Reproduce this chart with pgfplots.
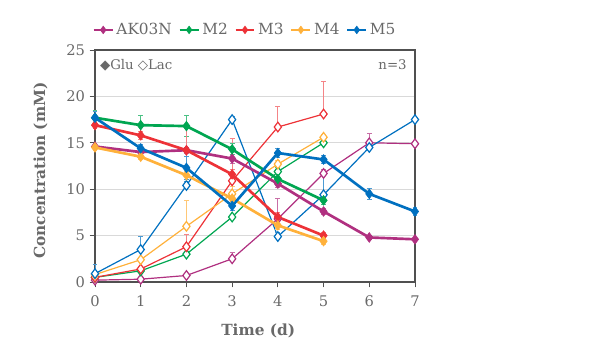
\documentclass[border=0pt]{standalone}
\usepackage{pgfplots}
\pgfplotsset{compat=1.18}
\usepackage{fontspec}
\setmainfont{DejaVu Serif}
\newfontfamily\symfont{DejaVu Sans}
\definecolor{cAK}{RGB}{176,48,128}
\definecolor{cM2}{RGB}{0,166,81}
\definecolor{cM3}{RGB}{237,50,55}
\definecolor{cM4}{RGB}{255,177,59}
\definecolor{cM5}{RGB}{0,112,192}
\definecolor{txt}{RGB}{105,105,105}
\definecolor{axc}{RGB}{80,80,80}
\definecolor{grd}{RGB}{217,217,217}

\pgfplotstableread{
x y e
0 14.6 0.2
1 14.0 0.3
2 14.2 0.3
3 13.3 0.5
4 10.6 0.4
5 7.6 0.3
6 4.8 0.2
7 4.6 0.2
}\akglu
\pgfplotstableread{
x y e
0 0.2 0.1
1 0.3 0.1
2 0.7 0.1
3 2.5 0.7
4 6.8 2.2
5 11.7 0.4
6 15.0 1.0
7 14.9 0.2
}\aklac
\pgfplotstableread{
x y e
0 17.7 0.8
1 16.9 1.0
2 16.8 1.1
3 14.3 0.6
4 11.1 0.5
5 8.8 0.4
}\mtwoglu
\pgfplotstableread{
x y e
0 0.5 0.1
1 1.2 0.1
2 3.0 0.2
3 7.0 0.3
4 11.9 0.4
5 15.0 0.3
}\mtwolac
\pgfplotstableread{
x y e
0 16.9 0.3
1 15.8 0.4
2 14.2 2.7
3 11.6 0.5
4 7.0 0.5
5 5.0 0.3
}\mthreeglu
\pgfplotstableread{
x y e
0 0.5 0.1
1 1.4 0.2
2 3.8 1.3
3 10.9 4.6
4 16.7 2.2
5 18.1 3.5
}\mthreelac
\pgfplotstableread{
x y e
0 14.5 0.2
1 13.5 0.3
2 11.5 0.4
3 9.0 0.5
4 6.1 0.4
5 4.4 0.3
}\mfourglu
\pgfplotstableread{
x y e
0 0.8 0.2
1 2.4 0.3
2 6.0 2.8
3 9.5 0.8
4 12.7 0.4
5 15.6 0.3
}\mfourlac
\pgfplotstableread{
x y e
0 17.7 0.7
1 14.4 0.4
2 12.3 1.2
3 8.2 0.5
4 13.9 0.5
5 13.2 0.4
6 9.5 0.6
7 7.6 0.4
}\mfiveglu
\pgfplotstableread{
x y e
0 0.9 1.0
1 3.5 1.4
2 10.4 0.4
3 17.5 0.3
4 4.9 0.4
5 9.4 2.5
6 14.5 0.4
7 17.5 0.3
}\mfivelac

\begin{document}
\begin{tikzpicture}
\path[use as bounding box] (-71.25pt,-47.25pt) rectangle (390pt,211.5pt);
\begin{axis}[
  at={(0,0)}, anchor=south west,
  scale only axis, width=240pt, height=174pt,
  xmin=0, xmax=7, ymin=0, ymax=25,
  xtick={0,...,7}, ytick={0,5,...,25},
  tick align=outside, xtick pos=bottom, ytick pos=left,
  major tick length=4pt,
  tick style={axc, line width=0.6pt},
  axis line style={axc, line width=0.8pt},
  ymajorgrids, grid style={grd, line width=0.6pt},
  clip=false,
  /pgf/number format/assume math mode=true,
  tick label style={font=\fontsize{11}{13}\selectfont, text=txt},
  xticklabel style={yshift=-3pt},
  ylabel={Concentration (mM)},
  xlabel={Time (d)},
  label style={font=\fontsize{11.5}{13}\selectfont\bfseries, text=txt},
  ylabel style={at={(axis description cs:-0.17,0.48)}, anchor=center},
  xlabel style={at={(axis description cs:0.51,-0.21)}, anchor=center},
  legend columns=5,
  legend style={draw=none, fill=none, at={(0.47,1.045)}, anchor=south,
    font=\fontsize{11.5}{13}\selectfont, text=txt,
    /tikz/every even column/.append style={column sep=3pt},
    inner sep=0pt},
  legend cell align=left,
  legend image code/.code={\draw[line width=1.6pt, mark size=2.8pt, mark repeat=2, mark phase=2] plot coordinates {(0cm,0cm)(0.25cm,0cm)(0.5cm,0cm)};},
  glu/.style={line width=2pt, mark=diamond*, mark size=3.6pt, mark options={solid, line width=0.5pt},
     error bars/y dir=both, error bars/y explicit, error bars/error mark options={rotate=90, mark size=1.8pt, line width=0.6pt}},
  lac/.style={forget plot, line width=0.9pt, mark=diamond*, mark size=3.6pt, mark options={solid, fill=white, line width=0.9pt},
     error bars/y dir=plus, error bars/y explicit, error bars/error mark options={rotate=90, mark size=1.8pt, line width=0.6pt}},
]
% Lactate (open)
\addplot[lac, cAK, error bars/error bar style={cAK!70, line width=0.6pt}] table[x=x, y=y, y error=e] {\aklac};
\addplot[lac, cM2, error bars/error bar style={cM2!70, line width=0.6pt}] table[x=x, y=y, y error=e] {\mtwolac};
\addplot[lac, cM3, error bars/error bar style={cM3!60, line width=0.6pt}] table[x=x, y=y, y error=e] {\mthreelac};
\addplot[lac, cM4, error bars/error bar style={cM4!70, line width=0.6pt}] table[x=x, y=y, y error=e] {\mfourlac};
\addplot[lac, cM5, error bars/error bar style={cM5!70, line width=0.6pt}] table[x=x, y=y, y error=e] {\mfivelac};
% Glucose (filled)
\addplot[glu, cAK, error bars/error bar style={cAK!70, line width=0.6pt}] table[x=x, y=y, y error=e] {\akglu};
\addlegendentry{AK03N}
\addplot[glu, cM2, error bars/error bar style={cM2!70, line width=0.6pt}] table[x=x, y=y, y error=e] {\mtwoglu};
\addlegendentry{M2}
\addplot[glu, cM3, error bars/error bar style={cM3!60, line width=0.6pt}] table[x=x, y=y, y error=e] {\mthreeglu};
\addlegendentry{M3}
\addplot[glu, cM4, error bars/error bar style={cM4!70, line width=0.6pt}] table[x=x, y=y, y error=e] {\mfourglu};
\addlegendentry{M4}
\addplot[glu, cM5, error bars/error bar style={cM5!70, line width=0.6pt}] table[x=x, y=y, y error=e] {\mfiveglu};
\addlegendentry{M5}
\node[anchor=west, text=txt, font=\fontsize{10}{12}\selectfont, inner sep=0pt] at (axis description cs:0.015,0.935) {{\symfont\char"25C6}Glu\hspace{3pt}{\symfont\char"25C7}Lac};
\node[anchor=east, text=txt, font=\fontsize{10}{12}\selectfont, inner sep=0pt] at (axis description cs:0.975,0.935) {n=3};
\end{axis}
\end{tikzpicture}
\end{document}
